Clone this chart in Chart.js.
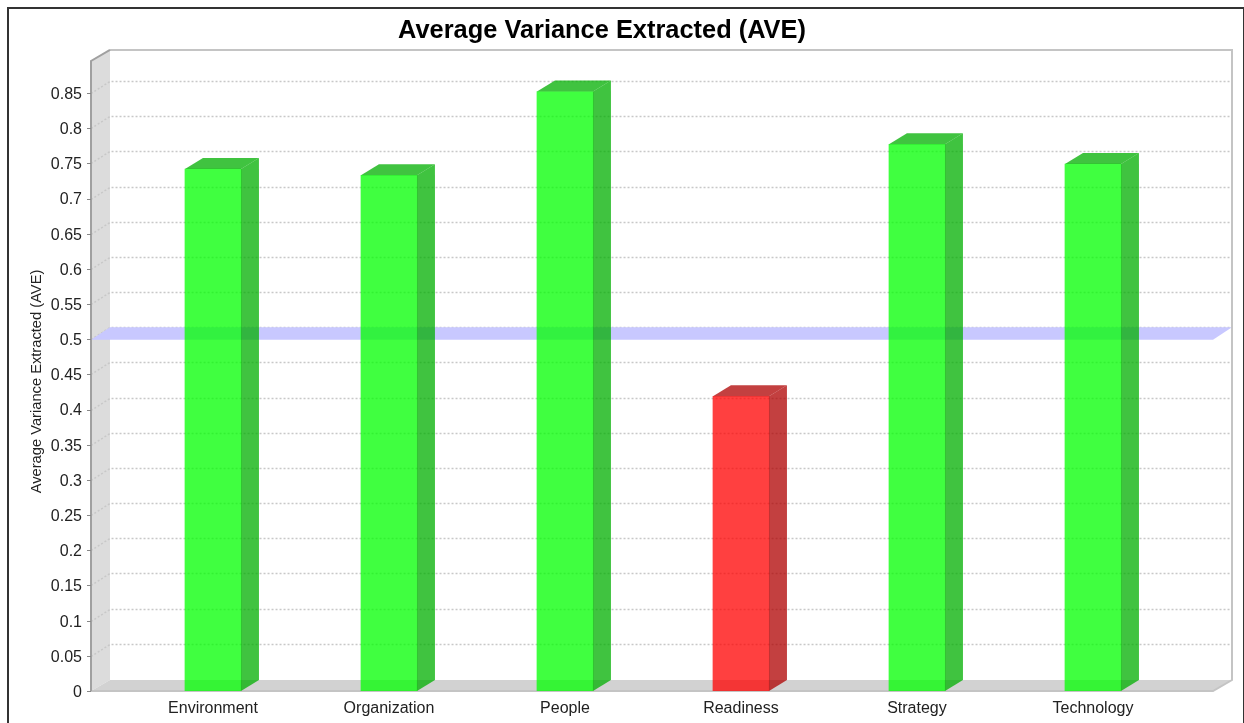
<!DOCTYPE html>
<html>
<head>
<meta charset="utf-8">
<script src="https://cdn.jsdelivr.net/npm/chart.js@4"></script>
<style>
  html, body { margin: 0; background: #fff; }
  #wrap { position: relative; width: 1244px; height: 723px; overflow: hidden; }
  #frame { position: absolute; left: 7px; top: 7px; width: 1237px; height: 730px; border: 2px solid #333; border-right-width: 1px; box-sizing: border-box; }
  canvas { position: absolute; left: 0; top: 0; }
</style>
</head>
<body>
<div id="wrap">
  <div id="frame"></div>
  <canvas id="chart" width="1244" height="723"></canvas>
</div>
<script>
const categories = ['Environment', 'Organization', 'People', 'Readiness', 'Strategy', 'Technology'];
const aveValues = [0.742, 0.733, 0.852, 0.419, 0.777, 0.749];
const threshold = 0.5;
const yTicks = [0, 0.05, 0.1, 0.15, 0.2, 0.25, 0.3, 0.35, 0.4, 0.45, 0.5, 0.55, 0.6, 0.65, 0.7, 0.75, 0.8, 0.85];
const axisTitle = 'Average Variance Extracted (AVE)';

// depth of the fake 3d box
const dx = 19;
const dy = 11;

function passes(v) {
  return v >= threshold;
}

const box3d = {
  id: 'box3d',
  afterLayout(chart) {
    // title sits off centre in the original
    chart.titleBlock.left = 0;
    chart.titleBlock.right = 1204;
  },
  beforeDatasetsDraw(chart) {
    const ctx = chart.ctx;
    const { left, right, top, bottom } = chart.chartArea;
    const y = chart.scales.y;
    ctx.save();

    // left wall
    ctx.fillStyle = '#dcdcdc';
    ctx.beginPath();
    ctx.moveTo(left, top);
    ctx.lineTo(left + dx, top - dy);
    ctx.lineTo(left + dx, bottom - dy);
    ctx.lineTo(left, bottom);
    ctx.closePath();
    ctx.fill();

    // floor
    ctx.fillStyle = '#d2d2d2';
    ctx.beginPath();
    ctx.moveTo(left, bottom);
    ctx.lineTo(left + dx, bottom - dy);
    ctx.lineTo(right + dx, bottom - dy);
    ctx.lineTo(right, bottom);
    ctx.closePath();
    ctx.fill();

    // grid
    ctx.strokeStyle = '#c8c8c8';
    ctx.lineWidth = 1.5;
    ctx.setLineDash([2, 2]);
    yTicks.forEach(t => {
      if (t === 0) return;
      const py = Math.round(y.getPixelForValue(t)) + 0.5;
      ctx.beginPath();
      ctx.moveTo(left, py);
      ctx.lineTo(left + dx, py - dy - 1);
      ctx.lineTo(right + dx, py - dy - 1);
      ctx.stroke();
    });
    ctx.setLineDash([]);

    // threshold plane at 0.5, the bars show through over it
    const band = y.getPixelForValue(threshold);
    ctx.fillStyle = '#c8c8ff';
    ctx.beginPath();
    ctx.moveTo(left, band + 0.5);
    ctx.lineTo(left + dx, band - dy - 1);
    ctx.lineTo(right + dx, band - dy - 1);
    ctx.lineTo(right, band + 0.5);
    ctx.closePath();
    ctx.fill();

    // wall edges
    ctx.strokeStyle = '#c4c4c4';
    ctx.lineWidth = 2;
    ctx.beginPath();
    ctx.moveTo(left + dx, top - dy);
    ctx.lineTo(right + dx, top - dy);
    ctx.lineTo(right + dx, bottom - dy);
    ctx.lineTo(right, bottom);
    ctx.lineTo(left, bottom);
    ctx.stroke();
    ctx.strokeStyle = '#a0a0a0';
    ctx.beginPath();
    ctx.moveTo(left + dx, top - dy);
    ctx.lineTo(left, top);
    ctx.lineTo(left, bottom);
    ctx.stroke();

    // tick marks
    ctx.lineWidth = 1;
    ctx.strokeStyle = '#888';
    yTicks.forEach(t => {
      const py = Math.round(y.getPixelForValue(t)) + 0.5;
      ctx.beginPath();
      ctx.moveTo(left - 4, py);
      ctx.lineTo(left, py);
      ctx.stroke();
    });

    // axis title, not centred on the plot in the original
    ctx.translate(37, 381.5);
    ctx.rotate(-Math.PI / 2);
    ctx.fillStyle = '#222';
    ctx.font = '14.7px "Liberation Sans"';
    ctx.textAlign = 'center';
    ctx.textBaseline = 'middle';
    ctx.fillText(axisTitle, 0, 0);
    ctx.restore();
  },
  afterDatasetsDraw(chart) {
    const ctx = chart.ctx;
    const meta = chart.getDatasetMeta(0);
    ctx.save();
    meta.data.forEach((bar, i) => {
      const ok = passes(aveValues[i]);
      const half = bar.width / 2;
      const x0 = bar.x - half;
      const x1 = bar.x + half;
      ctx.fillStyle = ok ? 'rgba(0,175,0,0.75)' : 'rgba(175,0,0,0.75)';
      // right side
      ctx.beginPath();
      ctx.moveTo(x1, bar.y);
      ctx.lineTo(x1 + dx - 1, bar.y - dy);
      ctx.lineTo(x1 + dx - 1, bar.base - dy);
      ctx.lineTo(x1, bar.base);
      ctx.closePath();
      ctx.fill();
      // top
      ctx.beginPath();
      ctx.moveTo(x0, bar.y);
      ctx.lineTo(x0 + dx - 1, bar.y - dy);
      ctx.lineTo(x1 + dx - 1, bar.y - dy);
      ctx.lineTo(x1, bar.y);
      ctx.closePath();
      ctx.fill();
    });
    ctx.restore();
  }
};

new Chart(document.getElementById('chart'), {
  type: 'bar',
  data: {
    datasets: [{
      data: aveValues.map((v, i) => ({ x: i, y: v })),
      backgroundColor: aveValues.map(v => passes(v) ? 'rgba(0,255,0,0.75)' : 'rgba(255,0,0,0.75)'),
      borderWidth: 0,
      barThickness: 56
    }]
  },
  plugins: [box3d],
  options: {
    responsive: false,
    animation: false,
    layout: { padding: { top: 0, right: 31, bottom: 0, left: 0 } },
    plugins: {
      legend: { display: false },
      tooltip: { enabled: false },
      title: {
        display: true,
        text: 'Average Variance Extracted (AVE)',
        color: '#000',
        font: { family: 'Liberation Sans', size: 25.4, weight: 'bold', lineHeight: 1.18 },
        padding: { top: 16, bottom: 15 }
      }
    },
    scales: {
      x: {
        type: 'linear',
        offset: false,
        // categories are not centred in the plot: the plot runs past them on both sides
        min: -0.693,
        max: 5.682,
        grid: { display: false },
        border: { display: false },
        afterBuildTicks: s => { s.ticks = categories.map((c, i) => ({ value: i })); },
        afterFit: s => { s.height = 32; },
        ticks: {
          autoSkip: false,
          maxRotation: 0,
          padding: 0,
          color: '#222',
          font: { family: 'Liberation Sans', size: 16 },
          callback: v => categories[v]
        }
      },
      y: {
        min: 0,
        max: 0.8955,
        grid: { display: false },
        border: { display: false },
        afterBuildTicks: s => { s.ticks = yTicks.map(v => ({ value: v })); },
        afterFit: s => { s.width = 91; },
        ticks: {
          padding: 1,
          labelOffset: 1.5,
          color: '#222',
          font: { family: 'Liberation Sans', size: 16 },
          callback: v => String(v)
        }
      }
    }
  }
});
</script>
</body>
</html>
